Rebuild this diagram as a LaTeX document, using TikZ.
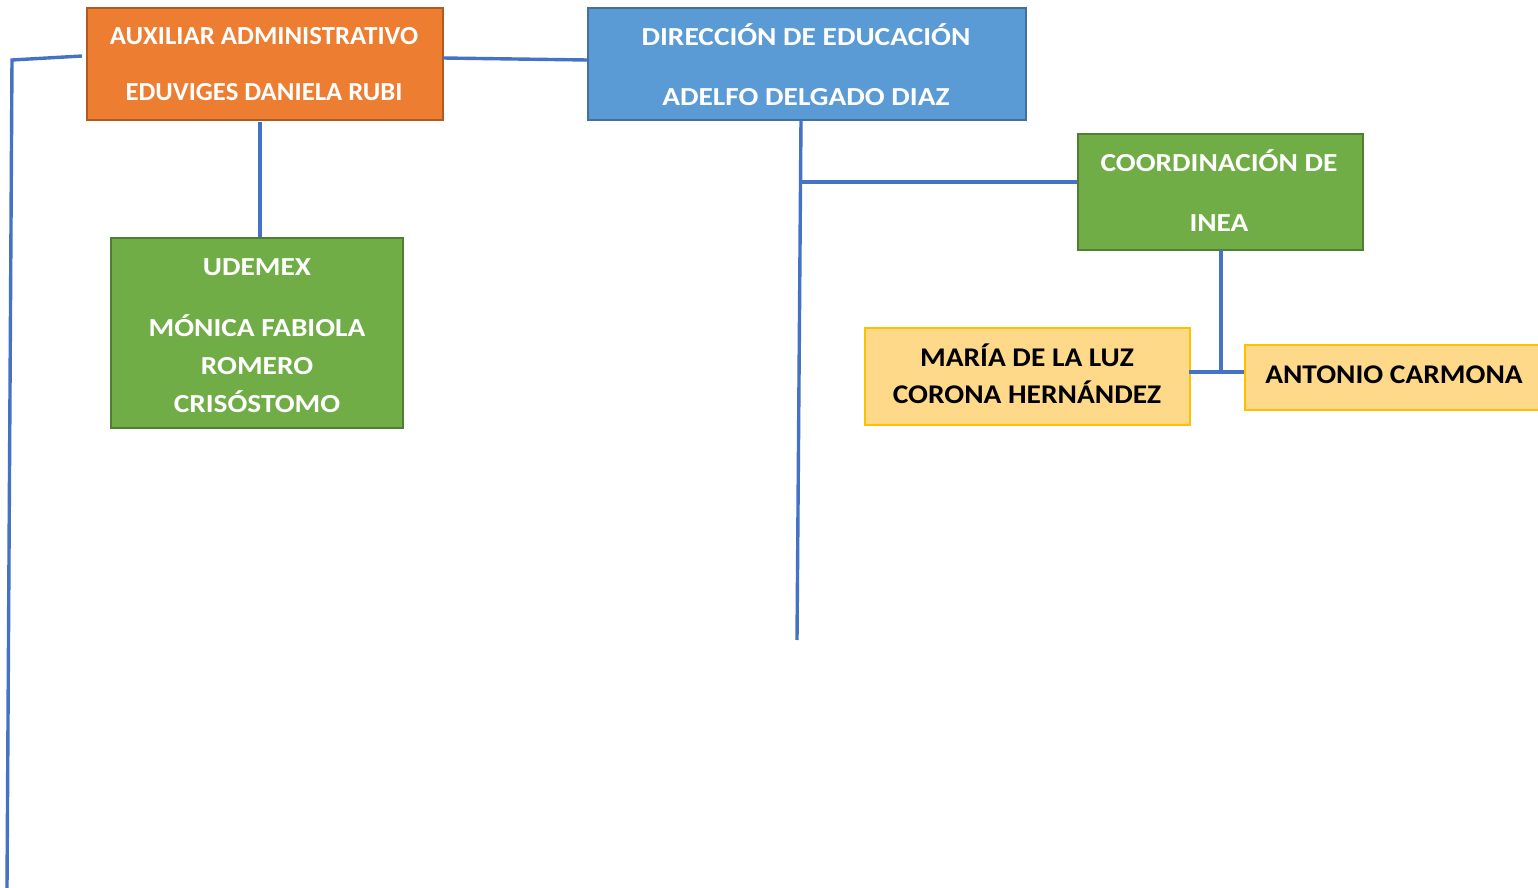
\documentclass[tikz,border=0pt]{standalone}
\usepackage{fontspec}
\setmainfont{Carlito}
\definecolor{orfill}{HTML}{ED7D31}
\definecolor{ordraw}{HTML}{AE5A21}
\definecolor{blfill}{HTML}{5B9BD5}
\definecolor{bldraw}{HTML}{41719C}
\definecolor{grfill}{HTML}{70AD47}
\definecolor{grdraw}{HTML}{507E32}
\definecolor{yefill}{HTML}{FFD98A}
\definecolor{yedraw}{HTML}{FFC000}
\definecolor{link}{HTML}{4472C4}
\newcommand{\wx}[2]{\scalebox{#1}[1]{#2}}
\begin{document}
\begin{tikzpicture}[x=0.5pt,y=-0.5pt,
  box/.style={anchor=north west,inner sep=0pt,line width=1pt},
  obox/.style={box,fill=orfill,draw=ordraw},
  bbox/.style={box,fill=blfill,draw=bldraw},
  gbox/.style={box,fill=grfill,draw=grdraw},
  ybox/.style={box,fill=yefill,draw=yedraw},
  lbl/.style={anchor=base,inner sep=0pt},
  wl/.style={lbl,text=white,font=\bfseries\fontsize{13}{15}\selectfont},
  kl/.style={lbl,text=black,font=\bfseries\fontsize{13.5}{16}\selectfont},
  conn/.style={draw=link,line width=1.7pt}]
\useasboundingbox (0,0) rectangle (1538,888);
% boxes
\node[obox,minimum width=178pt,minimum height=56pt] (aux) at (86,7) {};
\node[bbox,minimum width=219pt,minimum height=56pt] (dir) at (587,7) {};
\node[gbox,minimum width=146pt,minimum height=95pt] (ude) at (110,237) {};
\node[gbox,minimum width=142.5pt,minimum height=58pt] (coo) at (1077,133) {};
\node[ybox,minimum width=162.5pt,minimum height=48.5pt] (mar) at (864,327) {};
\node[ybox,minimum width=150pt,minimum height=32.5pt] (ant) at (1244,344) {};
% texts
\node[wl] (aux1) at (264,45) {\wx{1.03}{AUXILIAR ADMINISTRATIVO}};
\node[wl] (aux2) at (264,101) {\wx{1.03}{EDUVIGES DANIELA RUBI}};
\node[wl] (dir1) at (806,46) {\wx{1.13}{DIRECCIÓN DE EDUCACIÓN}};
\node[wl] (dir2) at (806,106) {\wx{1.13}{ADELFO DELGADO DIAZ}};
\node[wl] (ude1) at (257,275) {\wx{1.13}{UDEMEX}};
\node[wl] (ude2) at (257,336) {\wx{1.13}{MÓNICA FABIOLA}};
\node[wl] (ude3) at (257,374) {\wx{1.13}{ROMERO}};
\node[wl] (ude4) at (257,412) {\wx{1.13}{CRISÓSTOMO}};
\node[wl] (coo1) at (1219,172) {\wx{1.13}{COORDINACIÓN DE}};
\node[wl] (coo2) at (1219,232) {\wx{1.13}{INEA}};
\node[kl] (mar1) at (1027,366) {\wx{1.09}{MARÍA DE LA LUZ}};
\node[kl] (mar2) at (1027,403) {\wx{1.09}{CORONA HERNÁNDEZ}};
\node[kl] (ant1) at (1394,383) {\wx{1.09}{ANTONIO CARMONA}};
% connector points
\coordinate (auxL) at (82,56);
\coordinate (lc) at (12,60);
\coordinate (lb) at (7,888);
\coordinate (auxR) at (443,58);
\coordinate (dirL) at (587,60);
\coordinate (auxB) at (260,122);
\coordinate (udeT) at (260,237);
\coordinate (dirB) at (801,120);
\coordinate (dirE) at (797,640);
\coordinate (br) at (801,182);
\coordinate (cooL) at (1077,182);
\coordinate (cooB) at (1221,250);
\coordinate (jn) at (1221,372);
\coordinate (marR) at (1189,372);
\coordinate (antL) at (1244,372);
% connectors
\draw[conn] (auxL) -- (lc) -- (lb);
\draw[conn] (auxR) -- (dirL);
\draw[conn] (auxB) -- (udeT);
\draw[conn] (dirB) -- (dirE);
\draw[conn] (br) -- (cooL);
\draw[conn] (cooB) -- (jn);
\draw[conn] (marR) -- (antL);
\end{tikzpicture}
\end{document}
